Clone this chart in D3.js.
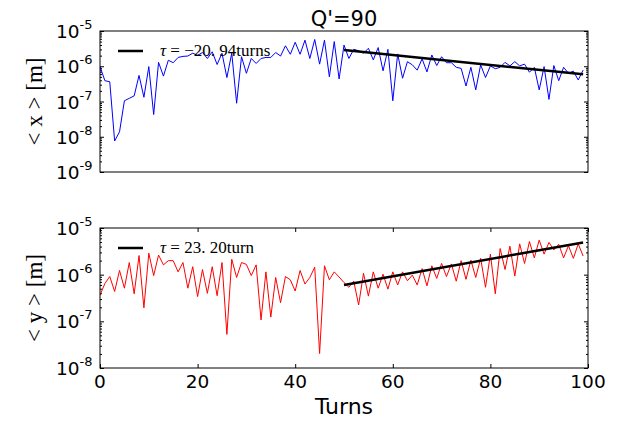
<!DOCTYPE html>
<html>
<head>
<meta charset="utf-8">
<script src="https://cdn.jsdelivr.net/npm/d3@7"></script>
<style>
  body { margin: 0; background: #fff; }
  svg { display: block; }
</style>
</head>
<body>
<div id="chart"></div>
<script>
// turns (x values) shared by both panels
var turns = [0,1,2,3,4,5,6,7,8,9,10,11,12,13,14,15,16,17,18,19,20,21,22,23,24,25,26,27,28,29,
  30,31,32,33,34,35,36,37,38,39,40,41,42,43,44,45,46,47,48,49,50,51,52,53,54,55,56,57,58,59,
  60,61,62,63,64,65,66,67,68,69,70,71,72,73,74,75,76,77,78,79,80,81,82,83,84,85,86,87,88,89,
  90,91,92,93,94,95,96,97,98,99];

// log10 of <x> [m]
var xLog10 = [-6.01,-6.41,-6.44,-8.12,-7.86,-6.98,-6.91,-6.84,-6.26,-6.88,
  -6.01,-7.37,-5.89,-6.28,-5.83,-5.90,-5.75,-5.72,-5.71,-5.63,
  -5.69,-5.61,-5.78,-5.59,-5.95,-5.63,-6.32,-5.63,-7.05,-5.73,
  -6.20,-5.78,-5.92,-5.78,-5.75,-5.75,-5.61,-5.71,-5.42,-5.66,
  -5.32,-5.66,-5.26,-5.78,-5.24,-5.94,-5.26,-6.30,-5.30,-6.36,
  -5.40,-5.78,-5.52,-5.56,-5.63,-5.49,-5.82,-5.47,-6.13,-5.52,
  -6.98,-5.65,-6.34,-5.87,-5.96,-6.11,-5.79,-6.16,-5.68,-5.98,
  -5.73,-5.90,-5.90,-6.03,-6.06,-6.56,-6.03,-6.67,-5.96,-6.32,
  -5.99,-6.07,-6.03,-5.89,-5.99,-5.87,-5.99,-5.94,-6.17,-6.03,
  -6.67,-6.01,-6.94,-5.98,-6.41,-6.03,-6.20,-6.14,-6.39,-6.11];

// log10 of <y> [m]
var yLog10 = [-6.44,-6.19,-6.04,-6.36,-5.91,-6.29,-5.74,-6.41,-5.59,-6.71,
  -5.54,-6.02,-5.58,-5.79,-5.70,-5.70,-5.94,-5.74,-6.29,-5.83,
  -6.47,-5.89,-6.40,-5.83,-6.45,-5.74,-7.28,-5.67,-6.06,-5.74,
  -5.78,-6.02,-5.79,-6.97,-5.94,-6.91,-6.06,-6.60,-6.04,-6.11,
  -6.35,-5.91,-6.20,-6.06,-5.84,-7.69,-5.81,-6.11,-5.94,-6.05,
  -6.17,-6.27,-6.14,-6.65,-5.97,-6.46,-5.94,-6.29,-5.99,-6.31,
  -5.94,-6.22,-5.94,-6.13,-6.01,-6.22,-5.87,-6.24,-5.81,-6.08,
  -5.76,-6.04,-5.77,-6.14,-5.70,-6.10,-5.69,-6.06,-5.65,-6.27,
  -5.56,-6.41,-5.44,-5.89,-5.39,-6.03,-5.34,-5.76,-5.29,-5.64,
  -5.26,-5.56,-5.31,-5.47,-5.35,-5.64,-5.38,-5.65,-5.34,-5.60];

// exponential fits: turns at the ends and fitted amplitude there
var fitTurns = [50, 99];
var xFitLog10 = [-5.54, -6.23];
var yFitLog10 = [-6.22, -5.31];

var xTicks = [0, 20, 40, 60, 80, 100];
var topDecades = [-9, -8, -7, -6, -5];
var botDecades = [-8, -7, -6, -5];

var title = "Q'=90";
var xLabel = "Turns";
var topLegend = " = \u221220. 94turns";
var botLegend = " = 23. 20turn";

var W = 621, H = 422;
var svg = d3.select("#chart").append("svg")
  .attr("width", W).attr("height", H);

var x = d3.scaleLinear().domain([0, 100]).range([100, 588]);

function drawPanel(opts) {
  var y = d3.scaleLog().domain([Math.pow(10, opts.decades[0]), Math.pow(10, opts.decades[opts.decades.length - 1])])
    .range([opts.bottom, opts.top]);
  var g = svg.append("g");

  // minor log ticks
  var minors = [];
  for (var i = 0; i < opts.decades.length - 1; i++) {
    for (var m = 2; m <= 9; m++) minors.push(m * Math.pow(10, opts.decades[i]));
  }
  var majors = opts.decades.map(function(d) { return Math.pow(10, d); });

  [[d3.axisLeft, 100], [d3.axisRight, 588]].forEach(function(s) {
    g.append("g").attr("transform", "translate(" + s[1] + ",0)")
      .call(s[0](y).tickValues(minors).tickSize(-2).tickFormat(""))
      .call(function(a) { a.select(".domain").remove(); a.selectAll("line").attr("stroke", "#000"); });
    g.append("g").attr("transform", "translate(" + s[1] + ",0)")
      .call(s[0](y).tickValues(majors).tickSize(-4).tickFormat(""))
      .call(function(a) { a.select(".domain").remove(); a.selectAll("line").attr("stroke", "#000"); });
  });

  // y tick labels 10^k
  var lab = g.append("g").selectAll("text").data(opts.decades).enter().append("text")
    .attr("x", 56)
    .attr("y", function(d) { return y(Math.pow(10, d)) + 7; })
    .attr("font-family", "DejaVu Sans")
    .attr("font-size", 18.5)
    .attr("fill", "#000");
  lab.append("tspan").text("10");
  lab.append("tspan").attr("dy", -9).attr("font-size", 13).text(function(d) { return d; });

  if (opts.xTicks) {
    [[d3.axisBottom, opts.bottom], [d3.axisTop, opts.top]].forEach(function(s) {
      g.append("g").attr("transform", "translate(0," + s[1] + ")")
        .call(s[0](x).tickValues(xTicks).tickSize(-4).tickFormat(""))
        .call(function(a) { a.select(".domain").remove(); a.selectAll("line").attr("stroke", "#000"); });
    });
    g.append("g").selectAll("text").data(xTicks).enter().append("text")
      .attr("x", function(d) { return x(d); })
      .attr("y", opts.bottom + 20)
      .attr("text-anchor", "middle")
      .attr("font-family", "DejaVu Sans")
      .attr("font-size", 18.5)
      .text(function(d) { return d; });
  }

  // data line
  var clipId = "clip" + opts.top;
  svg.append("clipPath").attr("id", clipId).append("rect")
    .attr("x", 100).attr("y", opts.top).attr("width", 488).attr("height", opts.bottom - opts.top);
  var line = d3.line()
    .x(function(d, i) { return x(turns[i]); })
    .y(function(d) { return y(Math.pow(10, d)); });
  g.append("path").datum(opts.values)
    .attr("clip-path", "url(#" + clipId + ")")
    .attr("d", line)
    .attr("fill", "none")
    .attr("stroke", opts.color)
    .attr("stroke-width", 1);

  // fit line
  var fitLine = d3.line()
    .x(function(d, i) { return x(fitTurns[i]); })
    .y(function(d) { return y(Math.pow(10, d)); });
  g.append("path").datum(opts.fit)
    .attr("d", fitLine)
    .attr("fill", "none")
    .attr("stroke", "#000")
    .attr("stroke-width", 2.5);

  // frame
  g.append("rect")
    .attr("x", 100).attr("y", opts.top)
    .attr("width", 488).attr("height", opts.bottom - opts.top)
    .attr("fill", "none").attr("stroke", "#000").attr("stroke-width", 1);

  // legend
  g.append("line")
    .attr("x1", 118).attr("x2", 143)
    .attr("y1", opts.top + 20).attr("y2", opts.top + 20)
    .attr("stroke", "#000").attr("stroke-width", 2.5);
  var lt = g.append("text")
    .attr("x", 160).attr("y", opts.top + 25)
    .attr("font-family", "Liberation Serif")
    .attr("font-size", 17)
    .attr("fill", "#000");
  lt.append("tspan").attr("font-style", "italic").text("\u03c4");
  lt.append("tspan").text(opts.legend);

  // y label
  g.append("text")
    .attr("transform", "translate(42," + ((opts.top + opts.bottom) / 2) + ") rotate(-90)")
    .attr("text-anchor", "middle")
    .attr("font-family", "Liberation Serif")
    .attr("font-size", 23)
    .text(opts.ylabel);
}

drawPanel({ top: 31, bottom: 172, decades: topDecades, values: xLog10, fit: xFitLog10,
  color: "#0000ff", legend: topLegend, ylabel: "< x > [m]", xTicks: false });
drawPanel({ top: 228, bottom: 368, decades: botDecades, values: yLog10, fit: yFitLog10,
  color: "#ff0000", legend: botLegend, ylabel: "< y > [m]", xTicks: true });

svg.append("text")
  .attr("x", 344).attr("y", 26)
  .attr("text-anchor", "middle")
  .attr("font-family", "DejaVu Sans")
  .attr("font-size", 21)
  .text(title);

svg.append("text")
  .attr("x", 344).attr("y", 414)
  .attr("text-anchor", "middle")
  .attr("font-family", "DejaVu Sans")
  .attr("font-size", 22)
  .text(xLabel);
</script>
</body>
</html>
